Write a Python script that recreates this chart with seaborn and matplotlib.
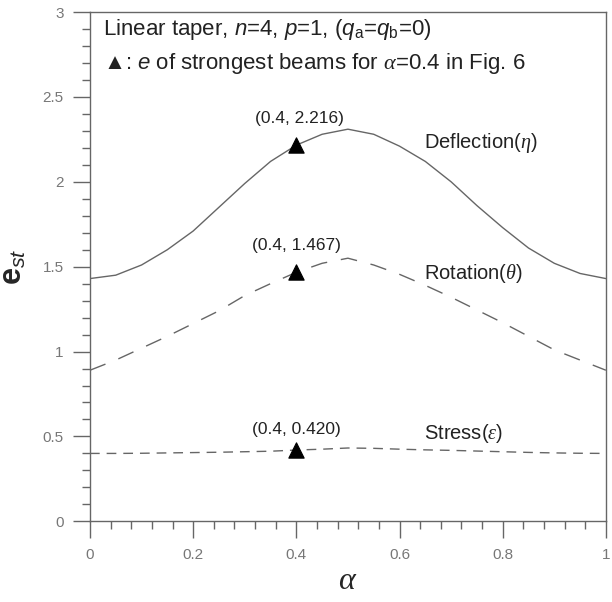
import matplotlib
matplotlib.use('Agg')
import matplotlib.pyplot as plt
import seaborn as sns
import pandas as pd
from matplotlib.ticker import MultipleLocator

# values
alpha = [0.00, 0.05, 0.10, 0.15, 0.20, 0.25, 0.30, 0.35, 0.40, 0.45, 0.50,
         0.55, 0.60, 0.65, 0.70, 0.75, 0.80, 0.85, 0.90, 0.95, 1.00]
deflection = [1.43, 1.45, 1.51, 1.60, 1.71, 1.85, 1.99, 2.12, 2.216, 2.28, 2.31,
              2.28, 2.21, 2.12, 2.00, 1.86, 1.73, 1.61, 1.52, 1.46, 1.43]
rotation = [0.89, 0.95, 1.02, 1.09, 1.165, 1.24, 1.33, 1.40, 1.467, 1.52, 1.55,
            1.51, 1.455, 1.39, 1.32, 1.245, 1.17, 1.09, 1.01, 0.95, 0.89]
stress = [0.400, 0.400, 0.401, 0.403, 0.405, 0.407, 0.410, 0.413, 0.420, 0.425, 0.432,
          0.430, 0.425, 0.421, 0.418, 0.414, 0.410, 0.406, 0.403, 0.401, 0.400]

mark_alpha = [0.4, 0.4, 0.4]
mark_est = [2.216, 1.467, 0.420]
mark_text = ['(0.4, 2.216)', '(0.4, 1.467)', '(0.4, 0.420)']

xticks = [0, 0.2, 0.4, 0.6, 0.8, 1]
xtick_labels = ['0', '0.2', '0.4', '0.6', '0.8', '1']
yticks = [0, 0.5, 1, 1.5, 2, 2.5, 3]
ytick_labels = ['0', '0.5', '1', '1.5', '2', '2.5', '3']

sns.set_style('ticks')
plt.rcParams['font.family'] = ['Liberation Sans', 'DejaVu Sans']
plt.rcParams['mathtext.fontset'] = 'custom'
plt.rcParams['mathtext.rm'] = 'Liberation Sans'
plt.rcParams['mathtext.it'] = 'Liberation Serif:italic'
plt.rcParams['mathtext.bf'] = 'Liberation Sans:bold'
plt.rcParams['mathtext.sf'] = 'Liberation Sans:italic'
plt.rcParams['mathtext.fallback'] = 'stixsans'

df = pd.DataFrame({'alpha': alpha, 'Deflection': deflection,
                   'Rotation': rotation, 'Stress': stress})

fig = plt.figure(figsize=(6.12, 6.02), dpi=100)
ax = fig.add_axes([0.147, 0.134, 0.843, 0.846])

line_col = '#666666'
sns.lineplot(data=df, x='alpha', y='Deflection', ax=ax, color=line_col, lw=1)
sns.lineplot(data=df, x='alpha', y='Rotation', ax=ax, color=line_col, lw=1,
             linestyle=(0, (12, 10)))
sns.lineplot(data=df, x='alpha', y='Stress', ax=ax, color=line_col, lw=1,
             linestyle=(0, (7, 5)))
sns.scatterplot(x=mark_alpha, y=mark_est, ax=ax, marker='^', s=120,
                color='black', edgecolor='black', zorder=5)

offsets = [(2, 19), (0, 19), (0, 15)]
for x, y, t, off in zip(mark_alpha, mark_est, mark_text, offsets):
    ax.annotate(t, (x, y), xytext=off, textcoords='offset points',
                ha='center', va='center', fontsize=12.5, color='#222222')

ax.text(0.647, 2.23, r'Deflection($\eta$)', va='center', fontsize=14.5, color='#222222')
ax.text(0.647, 1.46, r'Rotation($\theta$)', va='center', fontsize=14.5, color='#222222')
ax.text(0.647, 0.515, r'Stress($\varepsilon$)', va='center', fontsize=14.5, color='#222222')

ax.text(0.025, 2.90, r'Linear taper, $\mathsf{n}$=4, $\mathsf{p}$=1, '
        r'($\mathsf{q}_\mathrm{a}$=$\mathsf{q}_\mathrm{b}$=0)',
        va='center', fontsize=16, color='#222222')
ax.text(0.025, 2.695, r'▲: $\mathsf{e}$ of strongest beams for $\alpha$=0.4 in Fig. 6',
        va='center', fontsize=16, color='#222222')

ax.set_xlim(0, 1)
ax.set_ylim(0, 3)
ax.set_xticks(xticks, xtick_labels)
ax.set_yticks(yticks, ytick_labels)
ax.xaxis.set_minor_locator(MultipleLocator(0.04))
ax.yaxis.set_minor_locator(MultipleLocator(0.1))
ax.tick_params(which='major', length=12, width=1, color='#666666',
               labelsize=11, labelcolor='#777777', pad=7)
ax.tick_params(which='minor', length=6, width=1, color='#666666')
for s in ax.spines.values():
    s.set_color('#666666')
    s.set_linewidth(1)

ax.set_xlabel(r'$\alpha$', fontsize=23, labelpad=3)
ax.set_ylabel(r'$\mathbf{e}_{\mathsf{st}}$', fontsize=22, labelpad=10)

fig.savefig('out.png', dpi=100)
